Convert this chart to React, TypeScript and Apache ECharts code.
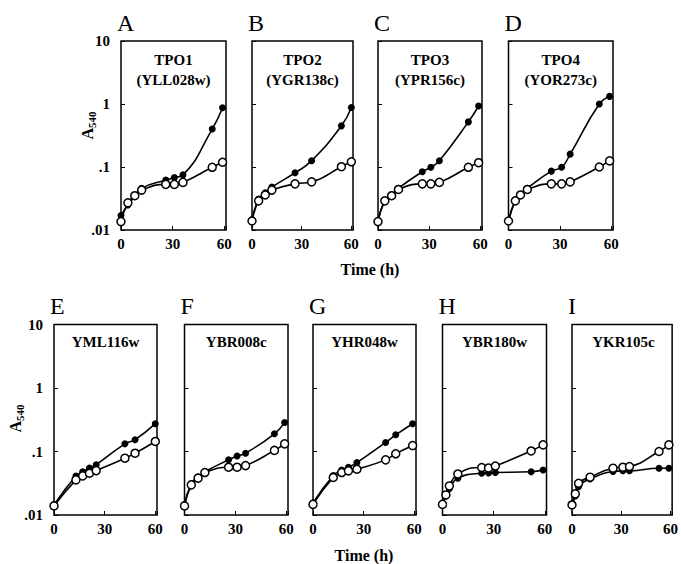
import React, { useEffect, useRef } from "react";
import * as echarts from "echarts";

// ---- Data (time in h, A540) ----
const timesA = [0, 4, 8, 12, 26, 31, 36, 53, 59];
const filledA = [0.017, 0.025, 0.034, 0.046, 0.062, 0.068, 0.075, 0.4, 0.87];
const openA = [0.0136, 0.027, 0.035, 0.043, 0.053, 0.053, 0.057, 0.099, 0.119];

const timesB = [0, 4, 8, 12, 26, 36, 54, 60];
const filledB = [0.0145, 0.031, 0.039, 0.048, 0.081, 0.126, 0.45, 0.88];
const openB = [0.0139, 0.029, 0.036, 0.043, 0.054, 0.058, 0.101, 0.121];

const timesC = [0, 4, 8, 12, 26, 31, 36, 53, 59];
const filledC = [0.0136, 0.029, 0.036, 0.046, 0.084, 0.099, 0.126, 0.52, 0.93];
const openC = [0.0136, 0.029, 0.035, 0.044, 0.054, 0.054, 0.057, 0.099, 0.117];

const timesD = [0, 4, 7, 11, 25, 31, 36, 53, 59];
const filledD = [0.014, 0.03, 0.037, 0.046, 0.086, 0.099, 0.16, 1.0, 1.32];
const openD = [0.0139, 0.029, 0.036, 0.044, 0.054, 0.054, 0.058, 0.1, 0.125];

const timesE = [0, 13, 17, 21, 25, 42, 48, 60];
const filledE = [0.0145, 0.041, 0.048, 0.055, 0.062, 0.132, 0.153, 0.274];
const openE = [0.0139, 0.0357, 0.0413, 0.0455, 0.05, 0.0785, 0.094, 0.144];

const timesF = [0, 4, 8, 12, 26, 31, 36, 53, 59];
const filledF = [0.0145, 0.031, 0.04, 0.048, 0.074, 0.085, 0.094, 0.19, 0.287];
const openF = [0.0139, 0.0298, 0.038, 0.0466, 0.0566, 0.0566, 0.06, 0.104, 0.132];

const timesG = [0, 12, 17, 21, 26, 43, 49, 59];
const filledG = [0.0155, 0.042, 0.051, 0.0566, 0.067, 0.139, 0.183, 0.274];
const openG = [0.0147, 0.039, 0.0466, 0.0496, 0.0526, 0.0738, 0.092, 0.124];

const timesH = [0, 2, 4, 9, 23, 27, 31, 52, 59];
const filledH = [0.0147, 0.02, 0.026, 0.038, 0.0455, 0.046, 0.0466, 0.048, 0.051];
const openH = [0.0147, 0.0207, 0.0287, 0.0443, 0.056, 0.055, 0.059, 0.102, 0.127];

const timesI = [0, 2, 4, 11, 25, 31, 35, 53, 59];
const filledI = [0.0144, 0.02, 0.028, 0.037, 0.0483, 0.0496, 0.0496, 0.0546, 0.0546];
const openI = [0.0144, 0.0215, 0.0316, 0.0394, 0.0546, 0.0566, 0.058, 0.1, 0.127];

const panelLetters = ["A", "B", "C", "D", "E", "F", "G", "H", "I"];
const panelTitles = [
  ["TPO1", "(YLL028w)"],
  ["TPO2", "(YGR138c)"],
  ["TPO3", "(YPR156c)"],
  ["TPO4", "(YOR273c)"],
  ["YML116w"],
  ["YBR008c"],
  ["YHR048w"],
  ["YBR180w"],
  ["YKR105c"],
];
const xTicks = [0, 30, 60];
const yTickLabels: Record<string, string> = { "1": "10", "0": "1", "-1": ".1", "-2": ".01" };

const panelData = [
  [timesA, filledA, openA],
  [timesB, filledB, openB],
  [timesC, filledC, openC],
  [timesD, filledD, openD],
  [timesE, filledE, openE],
  [timesF, filledF, openF],
  [timesG, filledG, openG],
  [timesH, filledH, openH],
  [timesI, filledI, openI],
];

// ---- Layout ----
const TOP1 = 41, H1 = 189;
const TOP2 = 324.5, H2 = 190.5;
const gridRects = [
  { left: 121, top: TOP1, width: 105, height: H1 },
  { left: 252, top: TOP1, width: 101, height: H1 },
  { left: 378, top: TOP1, width: 104, height: H1 },
  { left: 508.5, top: TOP1, width: 104.5, height: H1 },
  { left: 54, top: TOP2, width: 103, height: H2 },
  { left: 184.5, top: TOP2, width: 103.5, height: H2 },
  { left: 313, top: TOP2, width: 103, height: H2 },
  { left: 442.5, top: TOP2, width: 104, height: H2 },
  { left: 572, top: TOP2, width: 103, height: H2 },
];

const FONT = "'Liberation Serif', 'Times New Roman', serif";

export default function App() {
  const ref = useRef<HTMLDivElement>(null);
  useEffect(() => {
    if (!ref.current) return;
    const chart = echarts.init(ref.current, undefined, { renderer: "svg" });

    const grids = gridRects.map((g) => ({
      ...g,
      show: true,
      borderColor: "#000",
      borderWidth: 1.5,
      backgroundColor: "transparent",
      containLabel: false,
    }));

    const xAxes = gridRects.map((_, i) => ({
      gridIndex: i,
      type: "value",
      min: 0,
      max: 61,
      interval: 30,
      axisLine: { show: false },
      splitLine: { show: false },
      axisTick: { inside: true, length: 4, lineStyle: { color: "#000", width: 1 } },
      axisLabel: {
        formatter: (v: number) => (xTicks.includes(v) ? String(v) : ""),
        color: "#000",
        fontFamily: FONT,
        fontWeight: "bold",
        fontSize: 15,
        margin: 6,
      },
    }));

    const yAxes = gridRects.map((_, i) => ({
      gridIndex: i,
      type: "log",
      logBase: 10,
      min: 0.01,
      max: 10,
      axisLine: { show: false },
      splitLine: { show: false },
      minorTick: { show: false },
      axisTick: { inside: true, length: 4, lineStyle: { color: "#000", width: 1 } },
      axisLabel: {
        show: i === 0 || i === 4,
        formatter: (v: number) => yTickLabels[String(Math.round(Math.log10(v)))] ?? "",
        color: "#000",
        fontFamily: FONT,
        fontWeight: "bold",
        fontSize: 15,
        margin: 11,
      },
    }));

    const series: any[] = [];
    panelData.forEach(([times, filled, open], i) => {
      series.push({
        type: "line",
        xAxisIndex: i,
        yAxisIndex: i,
        data: times.map((t, k) => [t, filled[k]]),
        smooth: 0.5,
        symbol: "circle",
        symbolSize: 7,
        showAllSymbol: true,
        lineStyle: { color: "#000", width: 1.6 },
        itemStyle: { color: "#000" },
        z: 2,
      });
      series.push({
        type: "line",
        xAxisIndex: i,
        yAxisIndex: i,
        data: times.map((t, k) => [t, open[k]]),
        smooth: 0.5,
        symbol: "circle",
        symbolSize: 8,
        showAllSymbol: true,
        lineStyle: { color: "#000", width: 1.6 },
        itemStyle: { color: "#fff", borderColor: "#000", borderWidth: 1.5 },
        z: 3,
      });
    });

    const graphics: any[] = [];
    gridRects.forEach((g, i) => {
      const top = i < 4;
      graphics.push({
        type: "text",
        x: g.left - 4,
        y: top ? 22.5 : 305.5,
        style: {
          text: panelLetters[i],
          font: `24px ${FONT}`,
          fill: "#000",
          textAlign: "left",
          textVerticalAlign: "middle",
        },
      });
      const lines = panelTitles[i];
      lines.forEach((line, k) => {
        graphics.push({
          type: "text",
          x: g.left + g.width / 2,
          y: top ? 60 + k * 20 : 342,
          style: {
            text: line,
            font: `bold 15px ${FONT}`,
            fill: "#000",
            textAlign: "center",
            textVerticalAlign: "middle",
          },
        });
      });
    });

    const a540 = (cx: number, cy: number) => ({
      type: "group",
      x: cx,
      y: cy,
      rotation: Math.PI / 2,
      children: [
        {
          type: "text",
          x: -2,
          y: 0,
          style: { text: "A", font: `bold 16px ${FONT}`, fill: "#000", textAlign: "right", textVerticalAlign: "middle" },
        },
        {
          type: "text",
          x: -2,
          y: 5,
          style: { text: "540", font: `bold 11px ${FONT}`, fill: "#000", textAlign: "left", textVerticalAlign: "middle" },
        },
      ],
    });
    graphics.push(a540(87, 126));
    graphics.push(a540(15, 419));

    const timeLabel = (cx: number, cy: number) => ({
      type: "text",
      x: cx,
      y: cy,
      style: { text: "Time (h)", font: `bold 16px ${FONT}`, fill: "#000", textAlign: "center", textVerticalAlign: "middle" },
    });
    graphics.push(timeLabel(370, 269));
    graphics.push(timeLabel(364, 555));

    chart.setOption({
      animation: false,
      backgroundColor: "#fff",
      grid: grids,
      xAxis: xAxes,
      yAxis: yAxes,
      series,
      graphic: graphics,
    });
    return () => chart.dispose();
  }, []);
  return (
    <div
      ref={ref}
      style={{ position: "fixed", left: 0, top: 0, width: 681, height: 564, background: "#fff" }}
    />
  );
}
